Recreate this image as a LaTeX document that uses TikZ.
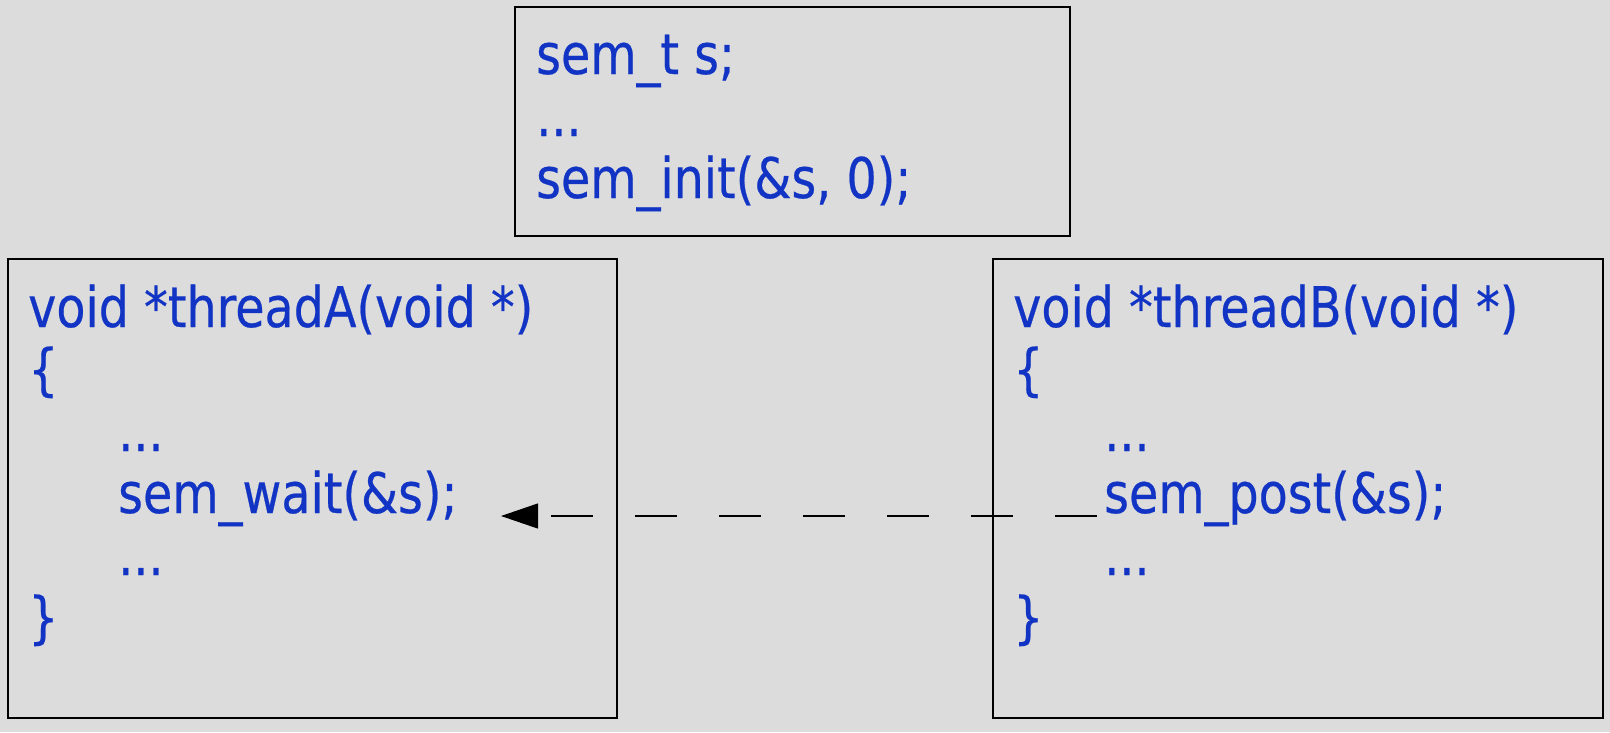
\documentclass[tikz,border=0pt]{standalone}
\usepackage{fontspec}
\setmainfont{DejaVu Sans}[FakeStretch=0.85,FakeBold=0.4]
\usetikzlibrary{arrows.meta}
\definecolor{bg}{RGB}{220,220,220}
\definecolor{codeblue}{RGB}{18,52,196}
\begin{document}
\begin{tikzpicture}[x=1pt,y=-1pt,
  box/.style={draw=black,line width=2.2pt},
  code/.style={anchor=base west,inner sep=0pt,text=codeblue,font=\fontsize{56}{62}\selectfont},
  link/.style={draw=black,line width=1.1pt,dash pattern=on 42pt off 42pt,-{Triangle[length=37pt,width=25pt]}}]
\fill[bg] (0,0) rectangle (1610,732);
\useasboundingbox (0,0) rectangle (1610,732);
% boxes
\draw[box] (515,7) rectangle (1070,236);
\draw[box] (8,259) rectangle (617,718);
\draw[box] (993,259) rectangle (1603,718);
% top box text
\node[code] (t1) at (536,74) {sem\_t s;};
\node[code] (t2) at (536,136) {...};
\node[code] (t3) at (536,198) {sem\_init(\&s, 0);};
% thread A
\node[code] (a1) at (28,327) {void *threadA(void *)};
\node[code] (a2) at (28,389) {\{};
\node[code] (a3) at (118,451) {...};
\node[code] (wait) at (118,513) {sem\_wait(\&s);};
\node[code] (a5) at (118,575) {...};
\node[code] (a6) at (28,637) {\}};
% thread B
\node[code] (b1) at (1013,327) {void *threadB(void *)};
\node[code] (b2) at (1013,389) {\{};
\node[code] (b3) at (1104,451) {...};
\node[code] (post) at (1104,513) {sem\_post(\&s);};
\node[code] (b5) at (1104,575) {...};
\node[code] (b6) at (1013,637) {\}};
% signal arrow
\coordinate (aS) at (1097,516);
\coordinate (aE) at (501,516);
\draw[link] (aS) -- (aE);
\end{tikzpicture}
\end{document}
